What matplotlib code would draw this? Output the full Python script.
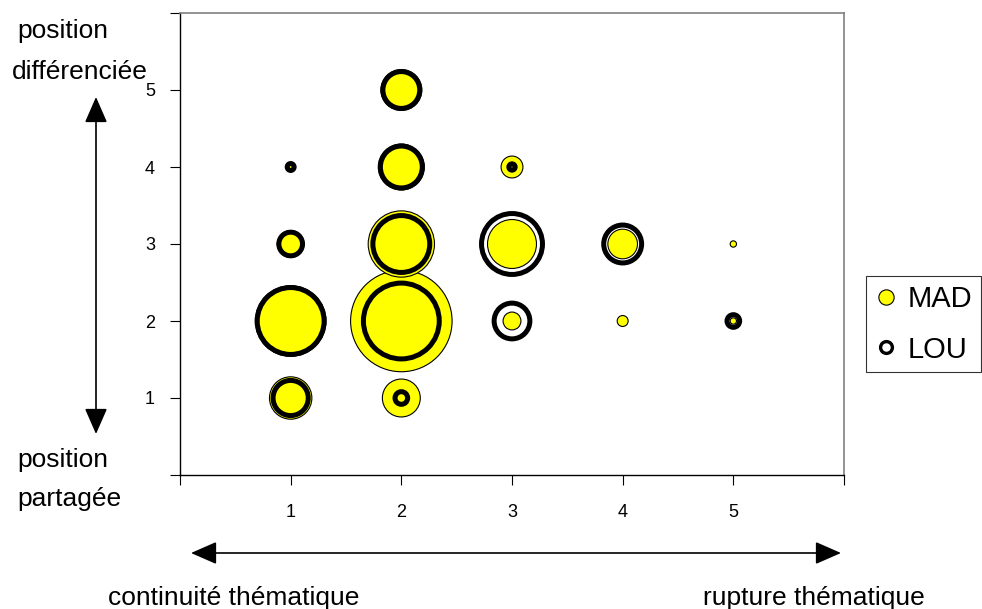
# bubble chart MAD vs LOU : position (y) vs continuité/rupture thématique (x)

import numpy as np
import matplotlib
matplotlib.use('Agg')
from matplotlib import pyplot as plt
from matplotlib.lines import Line2D
from matplotlib.patches import FancyArrowPatch

plt.rcParams['font.family'] = ['Liberation Sans', 'DejaVu Sans']

# MAD series (yellow bubbles)
mad_x = [1, 1, 1, 1, 2, 2, 2, 2, 2, 3, 3, 3, 4, 4, 5, 5]
mad_y = [1, 2, 3, 4, 1, 2, 3, 4, 5, 2, 3, 4, 2, 3, 2, 3]
mad_size = [45, 125, 18, 1, 36, 258, 110, 53, 42, 8, 60, 12, 3, 22, 1, 1]

# LOU series (hollow bubbles)
lou_x = [1, 1, 1, 1, 2, 2, 2, 2, 2, 3, 3, 3, 4, 5]
lou_y = [1, 2, 3, 4, 1, 2, 3, 4, 5, 2, 3, 4, 3, 2]
lou_size = [31, 112, 14, 1.2, 4, 144, 81, 44, 34, 32, 93, 1, 36, 4]

tick_labels = ['', '1', '2', '3', '4', '5', '']

W, H = 982, 609
BUBBLE_SCALE = 20.7  # points^2 per size unit


def fx(px):
    return px / W


def fy(py):
    return 1 - py / H


fig = plt.figure(figsize=(W / 100, H / 100), dpi=100)
ax = fig.add_axes([fx(180), fy(475), fx(844) - fx(180), fy(13) - fy(475)])

ax.scatter(mad_x, mad_y, s=np.array(mad_size) * BUBBLE_SCALE, facecolor='#ffff00',
           edgecolor='black', linewidth=0.8, zorder=2)
ax.scatter(lou_x, lou_y, s=np.array(lou_size) * BUBBLE_SCALE, facecolor='none',
           edgecolor='black', linewidth=3.6, zorder=3)

ax.set_xlim(0, 6)
ax.set_ylim(0, 6)
ax.set_xticks(range(7))
ax.set_xticklabels(tick_labels)
ax.set_yticks(range(7))
ax.set_yticklabels(tick_labels)
ax.tick_params(axis='both', direction='out', length=7, width=0.8, labelsize=13)
ax.tick_params(axis='x', pad=14)
ax.tick_params(axis='y', pad=11)
for side in ['top', 'right']:
    ax.spines[side].set_color('#808080')
    ax.spines[side].set_linewidth(1.2)
for side in ['left', 'bottom']:
    ax.spines[side].set_color('black')
    ax.spines[side].set_linewidth(1.0)

# legend
handles = [
    Line2D([], [], linestyle='none', marker='o', markersize=11, markerfacecolor='#ffff00',
           markeredgecolor='black', markeredgewidth=0.8),
    Line2D([], [], linestyle='none', marker='o', markersize=8.5, markerfacecolor='none',
           markeredgecolor='black', markeredgewidth=2.4),
]
leg = fig.legend(handles, ['MAD', 'LOU'], loc='upper left', bbox_to_anchor=(fx(866), fy(276)),
                 fontsize=21, frameon=True, fancybox=False, borderaxespad=0, borderpad=0.3,
                 handlelength=0.8, handletextpad=0.32, labelspacing=0.78)
leg.get_frame().set_edgecolor('black')
leg.get_frame().set_linewidth(0.8)

# side labels
lab = dict(fontsize=19, va='baseline', ha='left')
fig.text(fx(17), fy(38), 'position', **lab)
fig.text(fx(12), fy(79), 'différenciée', **lab)
fig.text(fx(17), fy(467), 'position', **lab)
fig.text(fx(17), fy(506), 'partagée', **lab)
fig.text(fx(108), fy(605), 'continuité thématique', **lab)
fig.text(fx(703), fy(605), 'rupture thématique', **lab)

# arrows
arr = dict(arrowstyle='<|-|>,head_length=1.6,head_width=0.7', mutation_scale=10,
           color='black', linewidth=1.2, transform=fig.transFigure, shrinkA=0, shrinkB=0)
fig.add_artist(FancyArrowPatch((fx(96), fy(97)), (fx(96), fy(434)), **arr))
fig.add_artist(FancyArrowPatch((fx(191), fy(553)), (fx(841), fy(553)), **arr))

plt.savefig('out.png', dpi=100)
